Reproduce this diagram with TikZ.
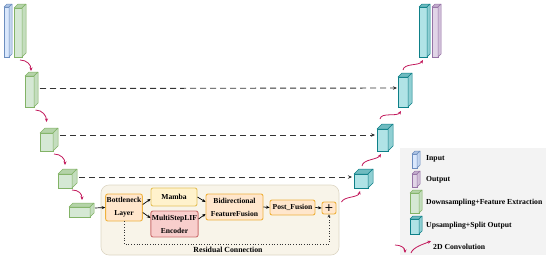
\documentclass[tikz,border=0pt]{standalone}
\usepackage{fontspec}
\setmainfont{Liberation Serif}
\newfontfamily\plusfont{DejaVu Sans}
\usetikzlibrary{arrows.meta}
\definecolor{gfill}{HTML}{D5E8D4}\definecolor{gdraw}{HTML}{82B366}
\definecolor{cfill}{HTML}{B0E3E6}\definecolor{cdraw}{HTML}{0E8088}
\definecolor{bfill}{HTML}{DAE8FC}\definecolor{bdraw}{HTML}{6C8EBF}
\definecolor{pfill}{HTML}{E1D5E7}\definecolor{pdraw}{HTML}{9673A6}
\definecolor{ofill}{HTML}{FFE6CC}\definecolor{odraw}{HTML}{EFB23F}
\definecolor{yfill}{HTML}{FFF2CC}\definecolor{ydraw}{HTML}{E5C25C}
\definecolor{rfill}{HTML}{F8CECC}\definecolor{rdraw}{HTML}{CC7070}
\definecolor{convred}{HTML}{C2185B}
\definecolor{contfill}{HTML}{F8F4E9}\definecolor{contdraw}{HTML}{DDD6C4}
\definecolor{legfill}{HTML}{F3F3F3}
\newcommand{\mycube}[8]{%
  \node[draw=#8, fill=#7, minimum width=#4pt, minimum height=#5pt, inner sep=0pt, outer sep=0pt, anchor=north west, line width=0.5pt] (#1) at (#2,#3) {};
  \filldraw[draw=#8, fill=#7!60!#8, line width=0.5pt, line join=round] (#1.north west) -- ++(#6,-#6) -- ++(#4,0) -- (#1.north east) -- cycle;
  \filldraw[draw=#8, fill=#7!80!#8, line width=0.5pt, line join=round] (#1.north east) -- ++(#6,-#6) -- ++(0,#5) -- (#1.south east) -- cycle;
}
\tikzset{
  procbox/.style={draw, rounded corners=2pt, line width=0.9pt, inner sep=1pt, align=center, font=\fontsize{7.6}{13}\selectfont\bfseries},
  obox/.style={procbox, fill=ofill, draw=odraw},
  ybox/.style={procbox, fill=yfill, draw=ydraw},
  rbox/.style={procbox, fill=rfill, draw=rdraw},
  flow/.style={-{Stealth[length=3.5pt,width=3pt]}, line width=0.7pt, black},
  skipline/.style={-{Stealth[length=4pt,width=3.5pt]}, line width=0.9pt, dash pattern=on 6pt off 4pt, black!80},
  res/.style={-{Stealth[length=3pt,width=3pt]}, line width=0.7pt, dotted, black!80},
  conv/.style={-{Stealth[length=3.5pt,width=3pt]}, line width=0.8pt, convred},
  lbl/.style={font=\fontsize{7.7}{9}\selectfont\bfseries, anchor=west, inner sep=0pt},
}
\begin{document}
\begin{tikzpicture}[x=1pt,y=-1pt]
\useasboundingbox (0,0) rectangle (550,260);
% backgrounds
\filldraw[fill=contfill, draw=contdraw, line width=0.6pt, rounded corners=8pt] (101,185) rectangle (339,255);
\fill[legfill] (400,148) rectangle (546,255);
% encoder cubes
\mycube{inp}{4}{7}{5}{50}{3}{bfill}{bdraw}
\mycube{g1}{14}{8}{8}{49}{4}{gfill}{gdraw}
\mycube{g2}{25}{76}{9}{31}{4}{gfill}{gdraw}
\mycube{g3}{40}{133}{13}{18}{5}{gfill}{gdraw}
\mycube{g4}{58}{174}{14}{14}{5}{gfill}{gdraw}
\mycube{g5}{69}{207}{21}{10}{4}{gfill}{gdraw}
% decoder cubes
\mycube{c4}{354}{174}{14}{14}{5}{cfill}{cdraw}
\mycube{c3}{377}{129}{11}{22}{5}{cfill}{cdraw}
\mycube{c2}{398}{77}{10}{30}{4}{cfill}{cdraw}
\mycube{c1}{419}{7}{8}{50}{3}{cfill}{cdraw}
\mycube{out}{432}{7}{6}{50}{3}{pfill}{pdraw}
% bottleneck blocks
\node[obox, minimum width=36pt, minimum height=27pt] (bn) at (124,207.5) {Bottleneck\\Layer};
\node[ybox, minimum width=46pt, minimum height=18pt] (mamba) at (174,197) {Mamba};
\node[rbox, minimum width=47pt, minimum height=26pt] (lif) at (174.5,224) {MultiStepLIF\\Encoder};
\node[obox, minimum width=57pt, minimum height=26pt] (bidir) at (234.5,207) {Bidirectional\\FeatureFusion};
\node[obox, minimum width=45pt, minimum height=15pt] (post) at (292.5,207.5) {Post\_Fusion};
\node[obox, minimum width=14pt, minimum height=12pt, inner sep=0pt, font=\plusfont\fontsize{11}{11}\selectfont] (plus) at (329,208) {+};
\draw[flow] ([xshift=5pt,yshift=4pt]g5.east) -- (bn.west);
\draw[flow] ([yshift=3pt]bn.east) -- ([yshift=-2pt]mamba.west);
\draw[flow] ([yshift=-5pt]bn.east) -- ([yshift=6pt]lif.west);
\draw[flow] (mamba.east) -- ([yshift=5pt]bidir.west);
\draw[flow] ([yshift=5pt]lif.east) -- ([yshift=-7pt]bidir.west);
\draw[flow] (bidir.east) -- (post.west);
\draw[flow] (post.east) -- (plus.west);
\coordinate (rc) at (228,244);
\draw[res] (bn.south) -- (bn.south |- rc) -| (plus.south);
\node[font=\fontsize{7.8}{9}\selectfont\bfseries, inner sep=0pt] (rlabel) at (228,249.5) {Residual Connection};
% skip connections
\draw[skipline] ([xshift=6pt,yshift=3pt]g2.east) -- ([xshift=-1pt,yshift=4pt]c2.west);
\draw[skipline] ([xshift=7pt,yshift=7pt]g3.east) -- ([xshift=-2pt,yshift=5pt]c3.west);
\draw[skipline] ([xshift=7pt,yshift=4pt]g4.east) -- ([xshift=-2pt,yshift=4pt]c4.west);
% down convolutions
\draw[conv] ([xshift=2pt,yshift=-3pt]g1.south) .. controls +(7,0) and +(0,-6) .. ([xshift=1.5pt,yshift=5pt]g2.north);
\draw[conv] ([xshift=6pt,yshift=-3pt]g2.south) .. controls +(7,0) and +(0,-6) .. ([yshift=11pt]g3.north);
\draw[conv] ([xshift=7.5pt,yshift=-3pt]g3.south) .. controls +(7,0) and +(0,-6) .. ([yshift=9pt]g4.north);
\draw[conv] ([xshift=7pt,yshift=-2pt]g4.south) .. controls +(7,0) and +(0,-6) .. ([xshift=2.5pt,yshift=7pt]g5.north);
% up convolutions
\draw[conv] ([xshift=5pt,yshift=6pt]plus.east) .. controls +(3,-6) and +(-2,7) .. ([xshift=-1pt,yshift=-3pt]c4.south);
\draw[conv] ([xshift=1pt,yshift=8pt]c4.north) .. controls +(1,-7) and +(-4,6) .. ([xshift=-1.5pt,yshift=-3pt]c3.south);
\draw[conv] ([xshift=-2.5pt,yshift=10pt]c3.north) .. controls +(1,-7) and +(-4,6) .. ([xshift=-2pt,yshift=-4pt]c2.south);
\draw[conv] ([yshift=7pt]c2.north) .. controls +(1,-7) and +(-4,6) .. ([yshift=-3pt]c1.south);
% legend
\mycube{li}{412}{154}{5}{14}{3}{bfill}{bdraw}
\mycube{lo}{412}{174}{5}{13}{3}{pfill}{pdraw}
\mycube{ld}{410}{193}{9}{20}{3}{gfill}{gdraw}
\mycube{lu}{410}{219}{9}{15}{3}{cfill}{cdraw}
\node[lbl] (tli) at (426,159) {Input};
\node[lbl] (tlo) at (426,179.5) {Output};
\node[lbl] (tld) at (426,203) {Downsampling+Feature Extraction};
\node[lbl] (tlu) at (426,225.5) {Upsampling+Split Output};
\node[lbl] (tlc) at (433,247) {2D Convolution};
\coordinate (la) at (395,245);
\coordinate (lb) at (405,253);
\coordinate (lc) at (411,253);
\coordinate (lx) at (431,241);
\draw[conv] (la) .. controls +(6,0) and +(0,-5) .. (lb);
\draw[conv] (lc) .. controls +(2,-6) and +(-7,3) .. (lx);
\end{tikzpicture}
\end{document}
